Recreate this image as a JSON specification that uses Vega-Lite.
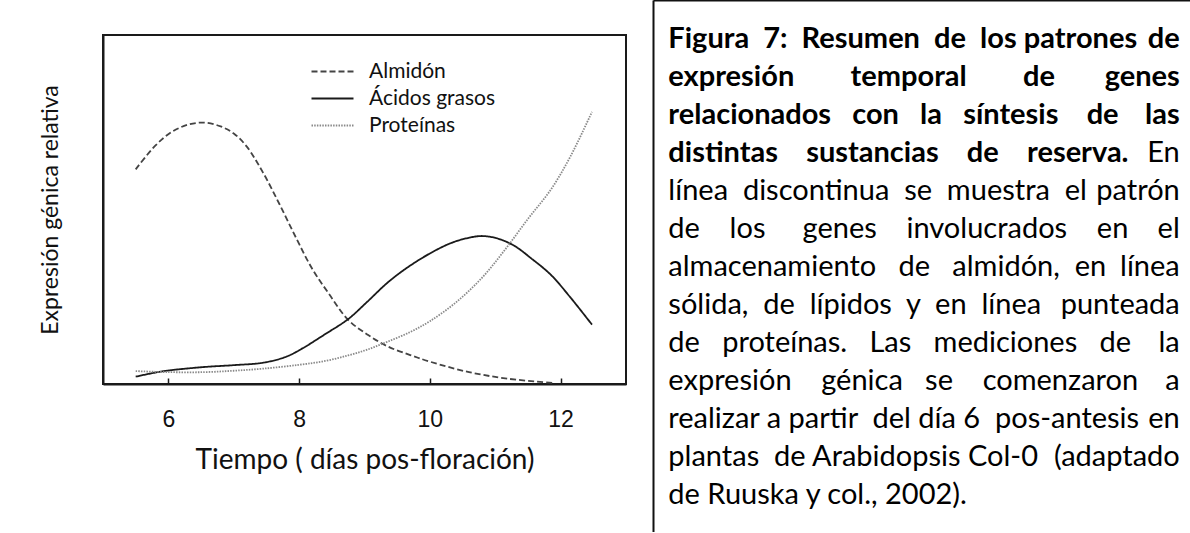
{
  "$schema": "https://vega.github.io/schema/vega-lite/v6.json",
  "background": "white",
  "padding": {"left": 38, "top": 0, "right": 0, "bottom": 0},
  "spacing": 26,
  "hconcat": [
    {
      "spacing": 0,
      "vconcat": [
        {
          "width": 523,
          "height": 34,
          "view": {"stroke": null},
          "data": {"values": [{}]},
          "mark": {"type": "text", "text": ""}
        },
        {
          "width": 523,
          "height": 349,
          "view": {"stroke": "#1a1a1a", "strokeWidth": 2},
          "data": {
            "values": [
              {"serie": "Almidón", "dia": 5.5, "expr": 61.5},
              {"serie": "Almidón", "dia": 5.8, "expr": 68.3},
              {"serie": "Almidón", "dia": 6.05, "expr": 72.2},
              {"serie": "Almidón", "dia": 6.3, "expr": 74.3},
              {"serie": "Almidón", "dia": 6.55, "expr": 74.9},
              {"serie": "Almidón", "dia": 6.8, "expr": 73.8},
              {"serie": "Almidón", "dia": 7.0, "expr": 71.8},
              {"serie": "Almidón", "dia": 7.2, "expr": 68.0},
              {"serie": "Almidón", "dia": 7.45, "expr": 60.5},
              {"serie": "Almidón", "dia": 7.7, "expr": 51.5},
              {"serie": "Almidón", "dia": 7.95, "expr": 42.0},
              {"serie": "Almidón", "dia": 8.2, "expr": 33.0},
              {"serie": "Almidón", "dia": 8.45, "expr": 26.0},
              {"serie": "Almidón", "dia": 8.75, "expr": 18.4},
              {"serie": "Almidón", "dia": 9.05, "expr": 14.1},
              {"serie": "Almidón", "dia": 9.35, "expr": 10.8},
              {"serie": "Almidón", "dia": 9.7, "expr": 8.3},
              {"serie": "Almidón", "dia": 10.0, "expr": 6.4},
              {"serie": "Almidón", "dia": 10.6, "expr": 3.4},
              {"serie": "Almidón", "dia": 11.2, "expr": 1.5},
              {"serie": "Almidón", "dia": 11.9, "expr": 0.3},
              {"serie": "Ácidos grasos", "dia": 5.5, "expr": 2.1},
              {"serie": "Ácidos grasos", "dia": 5.9, "expr": 3.6},
              {"serie": "Ácidos grasos", "dia": 6.5, "expr": 4.8},
              {"serie": "Ácidos grasos", "dia": 7.0, "expr": 5.4},
              {"serie": "Ácidos grasos", "dia": 7.45, "expr": 6.1},
              {"serie": "Ácidos grasos", "dia": 7.8, "expr": 7.8},
              {"serie": "Ácidos grasos", "dia": 8.05, "expr": 10.2},
              {"serie": "Ácidos grasos", "dia": 8.4, "expr": 14.3},
              {"serie": "Ácidos grasos", "dia": 8.75, "expr": 18.6},
              {"serie": "Ácidos grasos", "dia": 9.05, "expr": 23.7},
              {"serie": "Ácidos grasos", "dia": 9.35, "expr": 29.0},
              {"serie": "Ácidos grasos", "dia": 9.65, "expr": 33.3},
              {"serie": "Ácidos grasos", "dia": 10.0, "expr": 37.4},
              {"serie": "Ácidos grasos", "dia": 10.3, "expr": 40.2},
              {"serie": "Ácidos grasos", "dia": 10.55, "expr": 41.7},
              {"serie": "Ácidos grasos", "dia": 10.8, "expr": 42.4},
              {"serie": "Ácidos grasos", "dia": 11.05, "expr": 41.6},
              {"serie": "Ácidos grasos", "dia": 11.3, "expr": 39.5},
              {"serie": "Ácidos grasos", "dia": 11.55, "expr": 36.0},
              {"serie": "Ácidos grasos", "dia": 11.85, "expr": 31.3},
              {"serie": "Ácidos grasos", "dia": 12.15, "expr": 24.8},
              {"serie": "Ácidos grasos", "dia": 12.48, "expr": 17.0},
              {"serie": "Proteínas", "dia": 5.5, "expr": 3.7},
              {"serie": "Proteínas", "dia": 6.0, "expr": 3.4},
              {"serie": "Proteínas", "dia": 6.55, "expr": 3.4},
              {"serie": "Proteínas", "dia": 7.0, "expr": 3.8},
              {"serie": "Proteínas", "dia": 7.45, "expr": 4.4},
              {"serie": "Proteínas", "dia": 8.0, "expr": 5.5},
              {"serie": "Proteínas", "dia": 8.4, "expr": 6.6},
              {"serie": "Proteínas", "dia": 8.75, "expr": 8.2},
              {"serie": "Proteínas", "dia": 9.05, "expr": 9.9},
              {"serie": "Proteínas", "dia": 9.35, "expr": 12.1},
              {"serie": "Proteínas", "dia": 9.7, "expr": 14.9},
              {"serie": "Proteínas", "dia": 10.0, "expr": 18.0},
              {"serie": "Proteínas", "dia": 10.4, "expr": 23.4},
              {"serie": "Proteínas", "dia": 10.8, "expr": 30.5},
              {"serie": "Proteínas", "dia": 11.15, "expr": 38.5},
              {"serie": "Proteínas", "dia": 11.5, "expr": 47.3},
              {"serie": "Proteínas", "dia": 11.85, "expr": 55.7},
              {"serie": "Proteínas", "dia": 12.15, "expr": 65.2},
              {"serie": "Proteínas", "dia": 12.48, "expr": 78.0}
            ]
          },
          "mark": {"type": "line", "interpolate": "catmull-rom", "strokeWidth": 1.8},
          "encoding": {
            "x": {
              "field": "dia",
              "type": "quantitative",
              "scale": {"domain": [5, 13], "nice": false, "zero": false},
              "axis": {
                "values": [6, 8, 10, 12],
                "title": "Tiempo ( días pos-floración)",
                "grid": false,
                "tickSize": -6,
                "tickColor": "#1a1a1a",
                "tickWidth": 1.5,
                "domainColor": "#1a1a1a",
                "domainWidth": 2,
                "labelFont": "Liberation Sans",
                "labelFontSize": 23,
                "labelColor": "#111",
                "labelPadding": 30,
                "titleFont": "Lato",
                "titleFontSize": 28,
                "titleFontWeight": "normal",
                "titleColor": "#111",
                "titlePadding": 15
              }
            },
            "y": {
              "field": "expr",
              "type": "quantitative",
              "scale": {"domain": [0, 100], "nice": false},
              "axis": {
                "title": "Expresión génica relativa",
                "ticks": false,
                "labels": false,
                "grid": false,
                "domainColor": "#1a1a1a",
                "domainWidth": 2,
                "titleFont": "Lato",
                "titleFontSize": 23,
                "titleFontWeight": "normal",
                "titleColor": "#111",
                "titlePadding": 41
              }
            },
            "strokeDash": {
              "field": "serie",
              "type": "nominal",
              "scale": {"domain": ["Almidón", "Ácidos grasos", "Proteínas"], "range": [[6, 3], [1, 0], [1.5, 1.2]]},
              "legend": {
                "orient": "none",
                "legendX": 219,
                "legendY": 61,
                "title": null,
                "padding": 0,
                "symbolType": "M-3,0H3",
                "symbolSize": 196,
                "symbolStrokeWidth": 2,
                "labelFont": "Lato",
                "labelFontSize": 21,
                "labelColor": "#111",
                "labelOffset": 26,
                "rowPadding": 5
              }
            },
            "color": {
              "field": "serie",
              "type": "nominal",
              "scale": {"domain": ["Almidón", "Ácidos grasos", "Proteínas"], "range": ["#444444", "#1a1a1a", "#8a8a8a"]},
              "legend": {
                "orient": "none",
                "legendX": 219,
                "legendY": 61,
                "title": null,
                "padding": 0,
                "symbolType": "M-3,0H3",
                "symbolSize": 196,
                "symbolStrokeWidth": 2,
                "labelFont": "Lato",
                "labelFontSize": 21,
                "labelColor": "#111",
                "labelOffset": 26,
                "rowPadding": 5
              }
            }
          }
        }
      ]
    },
    {
      "width": 537,
      "height": 532,
      "view": {"stroke": null},
      "data": {
        "values": [
          {"linea": 1, "parte": "titulo", "texto": "Figura\u00a0\u00a07:\u00a0\u00a0Resumen\u00a0\u00a0de\u00a0\u00a0los\u00a0patrones"},
          {"linea": 1, "parte": "titulo_fin", "texto": "de"},
          {"linea": 2, "parte": "titulo", "texto": "expresión\u00a0\u00a0\u00a0\u00a0\u00a0\u00a0\u00a0\u00a0temporal\u00a0\u00a0\u00a0\u00a0\u00a0\u00a0\u00a0\u00a0de"},
          {"linea": 2, "parte": "titulo_fin", "texto": "genes"},
          {"linea": 3, "parte": "titulo", "texto": "relacionados\u00a0\u00a0\u00a0con\u00a0\u00a0\u00a0la\u00a0\u00a0\u00a0síntesis\u00a0\u00a0\u00a0\u00a0de"},
          {"linea": 3, "parte": "titulo_fin", "texto": "las"},
          {"linea": 4, "parte": "titulo", "texto": "distintas\u00a0\u00a0\u00a0\u00a0sustancias\u00a0\u00a0\u00a0\u00a0de\u00a0\u00a0\u00a0\u00a0reserva."},
          {"linea": 4, "parte": "cuerpo_fin", "texto": "En"},
          {"linea": 5, "parte": "cuerpo", "texto": "línea\u00a0\u00a0discontinua\u00a0\u00a0se\u00a0\u00a0muestra\u00a0\u00a0el"},
          {"linea": 5, "parte": "cuerpo_fin", "texto": "patrón"},
          {"linea": 6, "parte": "cuerpo", "texto": "de\u00a0\u00a0\u00a0\u00a0los\u00a0\u00a0\u00a0\u00a0\u00a0genes\u00a0\u00a0\u00a0\u00a0involucrados\u00a0\u00a0\u00a0\u00a0en"},
          {"linea": 6, "parte": "cuerpo_fin", "texto": "el"},
          {"linea": 7, "parte": "cuerpo", "texto": "almacenamiento\u00a0\u00a0\u00a0de\u00a0\u00a0\u00a0almidón,\u00a0\u00a0en"},
          {"linea": 7, "parte": "cuerpo_fin", "texto": "línea"},
          {"linea": 8, "parte": "cuerpo", "texto": "sólida,\u00a0\u00a0de\u00a0\u00a0lípidos\u00a0\u00a0y\u00a0\u00a0en\u00a0\u00a0línea"},
          {"linea": 8, "parte": "cuerpo_fin", "texto": "punteada"},
          {"linea": 9, "parte": "cuerpo", "texto": "de\u00a0\u00a0\u00a0proteínas.\u00a0\u00a0\u00a0Las\u00a0\u00a0\u00a0mediciones\u00a0\u00a0\u00a0de"},
          {"linea": 9, "parte": "cuerpo_fin", "texto": "la"},
          {"linea": 10, "parte": "cuerpo", "texto": "expresión\u00a0\u00a0\u00a0\u00a0génica\u00a0\u00a0\u00a0se\u00a0\u00a0\u00a0\u00a0comenzaron"},
          {"linea": 10, "parte": "cuerpo_fin", "texto": "a"},
          {"linea": 11, "parte": "cuerpo", "texto": "realizar\u00a0a\u00a0partir\u00a0\u00a0del\u00a0día\u00a06\u00a0\u00a0pos-antesis"},
          {"linea": 11, "parte": "cuerpo_fin", "texto": "en"},
          {"linea": 12, "parte": "cuerpo", "texto": "plantas\u00a0\u00a0de\u00a0Arabidopsis\u00a0Col-0"},
          {"linea": 12, "parte": "cuerpo_fin", "texto": "(adaptado"},
          {"linea": 13, "parte": "cuerpo", "texto": "de Ruuska y col., 2002)."}
        ]
      },
      "encoding": {
        "y": {
          "field": "linea",
          "type": "quantitative",
          "scale": {"domain": [-0.25, 13.75], "reverse": true, "nice": false, "zero": false},
          "axis": {"orient": "left", "title": null, "labels": false, "ticks": false, "grid": false, "domainColor": "#111", "domainWidth": 2}
        },
        "text": {"field": "texto"}
      },
      "layer": [
        {
          "transform": [{"filter": "datum.parte === 'titulo'"}],
          "mark": {"type": "text", "align": "left", "baseline": "alphabetic", "font": "Lato", "fontSize": 29, "fontWeight": "bold", "color": "#000"},
          "encoding": {
            "x": {
              "datum": 0,
              "type": "quantitative",
              "scale": {"domain": [-0.03, 1.02], "nice": false, "zero": false},
              "axis": {"orient": "top", "title": null, "labels": false, "ticks": false, "grid": false, "domainColor": "#111", "domainWidth": 2}
            }
          }
        },
        {
          "transform": [{"filter": "datum.parte === 'titulo_fin'"}],
          "mark": {"type": "text", "align": "right", "baseline": "alphabetic", "font": "Lato", "fontSize": 29, "fontWeight": "bold", "color": "#000"},
          "encoding": {"x": {"datum": 1, "type": "quantitative"}}
        },
        {
          "transform": [{"filter": "datum.parte === 'cuerpo'"}],
          "mark": {"type": "text", "align": "left", "baseline": "alphabetic", "font": "Lato", "fontSize": 29, "fontWeight": "normal", "color": "#000"},
          "encoding": {"x": {"datum": 0, "type": "quantitative"}}
        },
        {
          "transform": [{"filter": "datum.parte === 'cuerpo_fin'"}],
          "mark": {"type": "text", "align": "right", "baseline": "alphabetic", "font": "Lato", "fontSize": 29, "fontWeight": "normal", "color": "#000"},
          "encoding": {"x": {"datum": 1, "type": "quantitative"}}
        }
      ]
    }
  ]
}
